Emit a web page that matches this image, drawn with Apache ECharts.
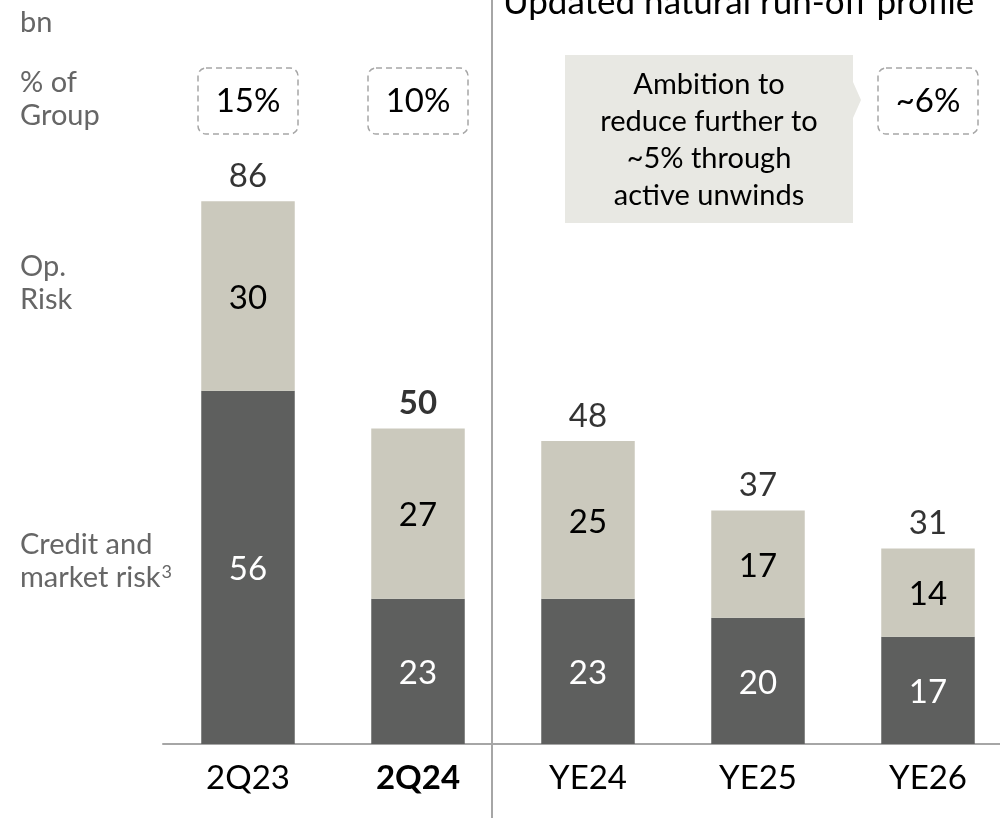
<!DOCTYPE html>
<html>
<head>
<meta charset="utf-8">
<script src="https://cdn.jsdelivr.net/npm/echarts@6/dist/echarts.min.js"></script>
<style>
  html, body { margin: 0; padding: 0; background: #fff; }
  #chart { width: 1000px; height: 818px; }
</style>
</head>
<body>
<div id="chart"></div>
<script>
// RWA run-off profile, in bn
const categories = ['2Q23', '2Q24', 'YE24', 'YE25', 'YE26'];
const creditMarketRisk = [56, 23, 23, 20, 17];
const opRisk = [30, 27, 25, 17, 14];
const totals = [86, 50, 48, 37, 31];
const shareOfGroup = ['15%', '10%', '', '', '~6%'];
const currentPeriod = '2Q24';

const FONT = 'Lato, "Open Sans", sans-serif';
const DARK = '#5e5f5e';
const LIGHT = '#cbc9bd';
const GREY_TEXT = '#666666';

const chart = echarts.init(document.getElementById('chart'));

const option = {
  animation: false,
  textStyle: { fontFamily: FONT },
  grid: { left: 163, width: 850, top: 113, bottom: 74, outerBoundsMode: 'none', containLabel: false },
  xAxis: {
    type: 'category',
    data: categories,
    axisLine: { lineStyle: { color: '#a6a6a6', width: 2 } },
    axisTick: { show: false },
    axisLabel: {
      interval: 0,
      hideOverlap: false,
      margin: 18,
      fontSize: 33,
      color: '#000',
      fontFamily: FONT,
      formatter: v => (v === currentPeriod ? '{b|' + v + '}' : v),
      rich: { b: { fontWeight: 'bold', fontSize: 33, fontFamily: FONT, color: '#000' } }
    }
  },
  yAxis: { type: 'value', min: 0, max: 100, show: false },
  series: [
    {
      name: 'Credit and market risk',
      type: 'bar',
      stack: 'rwa',
      barWidth: '55%',
      data: creditMarketRisk,
      itemStyle: { color: DARK },
      label: { show: true, position: 'inside', offset: [0, 2], color: '#fff', fontSize: 33, fontFamily: FONT }
    },
    {
      name: 'Op. Risk',
      type: 'bar',
      stack: 'rwa',
      barWidth: '55%',
      data: opRisk,
      itemStyle: { color: LIGHT },
      label: { show: true, position: 'inside', offset: [0, 2], color: '#000', fontSize: 33, fontFamily: FONT }
    },
    {
      name: 'Total',
      type: 'scatter',
      symbolSize: 1,
      itemStyle: { color: 'rgba(0,0,0,0)' },
      data: totals.map((v, i) => ({
        value: v,
        label: categories[i] === currentPeriod ? { fontWeight: 'bold' } : {}
      })),
      label: { show: true, position: 'top', distance: 8, color: '#000', fontSize: 33, fontFamily: FONT },
      z: 5
    }
  ]
};

chart.setOption(option);

// Annotations: side labels, share-of-group boxes, divider, callout
const graphics = [];

function sideText(x, y, text) {
  graphics.push({
    type: 'text', x: x, y: y,
    style: {
      text: text, fontSize: 29, lineHeight: 33, fill: GREY_TEXT, fontFamily: FONT, verticalAlign: 'top',
      rich: { sup: { fontSize: 18, lineHeight: 33, fill: GREY_TEXT, fontFamily: FONT, verticalAlign: 'top', padding: [2, 0, 0, 1] } }
    }
  });
}
sideText(20, 6, 'bn');
sideText(20, 66, '% of\nGroup');
sideText(20, 250, 'Op.\nRisk');
sideText(20, 528, 'Credit and\nmarket risk{sup|3}');

// Section heading on the right half
graphics.push({
  type: 'text', x: 503, y: 20,
  style: { text: 'Updated natural run-off profile', fontSize: 35, fill: '#000', fontFamily: FONT, verticalAlign: 'bottom' }
});

// Divider between actuals and outlook
graphics.push({
  type: 'line',
  shape: { x1: 492, y1: 0, x2: 492, y2: 818 },
  style: { stroke: '#a6a6a6', lineWidth: 2 }
});

// Share-of-group boxes above the bars
shareOfGroup.forEach((t, i) => {
  if (!t) return;
  const cx = chart.convertToPixel({ xAxisIndex: 0 }, categories[i]);
  graphics.push({
    type: 'rect',
    shape: { x: cx - 50, y: 68, width: 100, height: 66, r: 8 },
    style: { fill: 'none', stroke: '#a6a6a6', lineWidth: 1.5, lineDash: [6, 4] }
  });
  graphics.push({
    type: 'text', x: cx, y: 101,
    style: { text: t, fontSize: 33, fill: '#000', fontFamily: FONT, align: 'center', verticalAlign: 'middle' }
  });
});

// Callout with arrow pointing at the YE26 share
graphics.push({
  type: 'polygon',
  shape: { points: [[565, 55], [853, 55], [853, 82], [861, 100], [853, 118], [853, 223], [565, 223]] },
  style: { fill: '#e8e8e3' }
});
graphics.push({
  type: 'text', x: 709, y: 140,
  style: {
    text: 'Ambition to\nreduce further to\n~5% through\nactive unwinds',
    fontSize: 29, lineHeight: 37, fill: '#000', fontFamily: FONT,
    align: 'center', verticalAlign: 'middle'
  }
});

chart.setOption({ graphic: graphics });
</script>
</body>
</html>
